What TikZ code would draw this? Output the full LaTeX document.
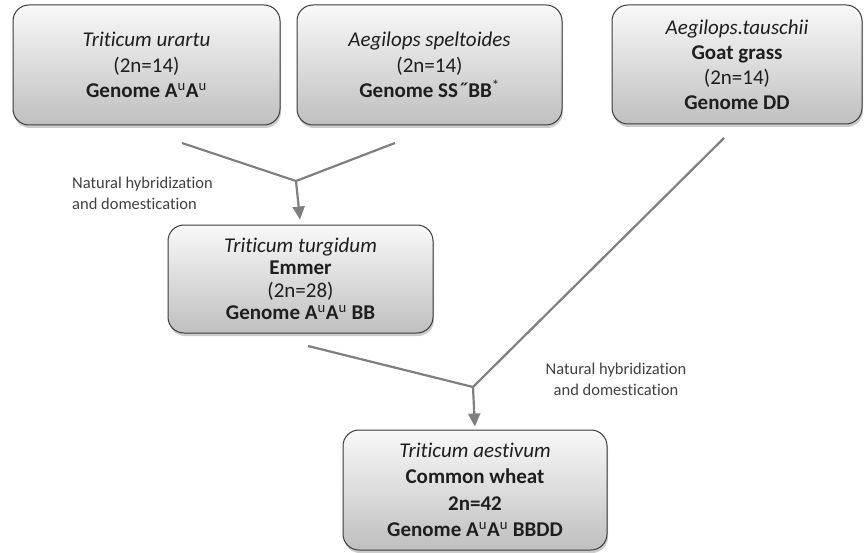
\documentclass[tikz,border=0pt]{standalone}
\usepackage{fontspec}
\setmainfont[Ligatures={NoCommon}]{Carlito}
\usetikzlibrary{shadows,arrows.meta}
\definecolor{txt}{HTML}{1E1E1E}
\definecolor{conncol}{HTML}{7F7F7F}
\definecolor{bord}{HTML}{3A3A3A}
\begin{document}
\begin{tikzpicture}[x=1pt,y=-1pt,
  sbox/.style={draw=bord, line width=1pt, rounded corners=16pt,
    top color=gray!5, bottom color=gray!50,
    drop shadow={shadow xshift=1pt,shadow yshift=-3pt,opacity=0.4},
    align=center, text=txt, inner sep=0pt,
    font=\fontsize{21}{25.5}\selectfont},
  conn/.style={draw=conncol, line width=2.2pt},
  arr/.style={conn, -{Triangle[length=13pt,width=12pt]}},
  lbl/.style={font=\fontsize{16.5}{21}\selectfont, text=txt!85, inner sep=0pt}]
\useasboundingbox (0,0) rectangle (866,553);

\node[sbox, minimum width=267pt, minimum height=120pt] (urartu) at (146.5,65)
  {\textit{Triticum urartu}\\(2n=14)\\\textbf{Genome A\textsuperscript{\mdseries u}A\textsuperscript{\mdseries u}}};
\node[sbox, minimum width=265pt, minimum height=120pt] (spelt) at (429.5,65)
  {\textit{Aegilops speltoides}\\(2n=14)\\\textbf{Genome SS˝BB}\textsuperscript{*}};
\node[sbox, minimum width=250pt, minimum height=119pt, font=\fontsize{21}{25}\selectfont] (tausch) at (737,64.5)
  {\textit{Aegilops.tauschii}\\\textbf{Goat grass}\\(2n=14)\\\textbf{Genome DD}};
\node[sbox, minimum width=265pt, minimum height=108pt, font=\fontsize{21}{22.5}\selectfont] (turg) at (300.5,279)
  {\textit{Triticum turgidum}\\\textbf{Emmer}\\(2n=28)\\\textbf{Genome A\textsuperscript{\mdseries u}A\textsuperscript{\mdseries u} BB}};
\node[sbox, minimum width=264pt, minimum height=120pt, font=\fontsize{21}{26.5}\selectfont] (aest) at (475,490)
  {\textit{Triticum aestivum}\\\textbf{Common wheat}\\\textbf{2n=42}\\\textbf{Genome A\textsuperscript{\mdseries u}A\textsuperscript{\mdseries u} BBDD}};

\coordinate (j1) at (296,181);
\coordinate (s1a) at (182,143);
\coordinate (s1b) at (395,143);
\coordinate (j2) at (473,387);
\coordinate (s2a) at (308,346);
\coordinate (s2b) at (724,138);

\draw[conn] (s1a) -- (j1) -- (s1b);
\draw[arr, shorten >=5pt] (j1) -- (turg.north);
\draw[conn] (s2a) -- (j2) -- (s2b);
\draw[arr, shorten >=3pt] (j2) -- (aest.north);

\node[lbl, anchor=west, align=left] (lab1) at (72,193.5)
  {Natural hybridization\\and domestication};
\node[lbl, align=center] (lab2) at (616,379)
  {Natural hybridization\\and domestication};
\end{tikzpicture}
\end{document}
